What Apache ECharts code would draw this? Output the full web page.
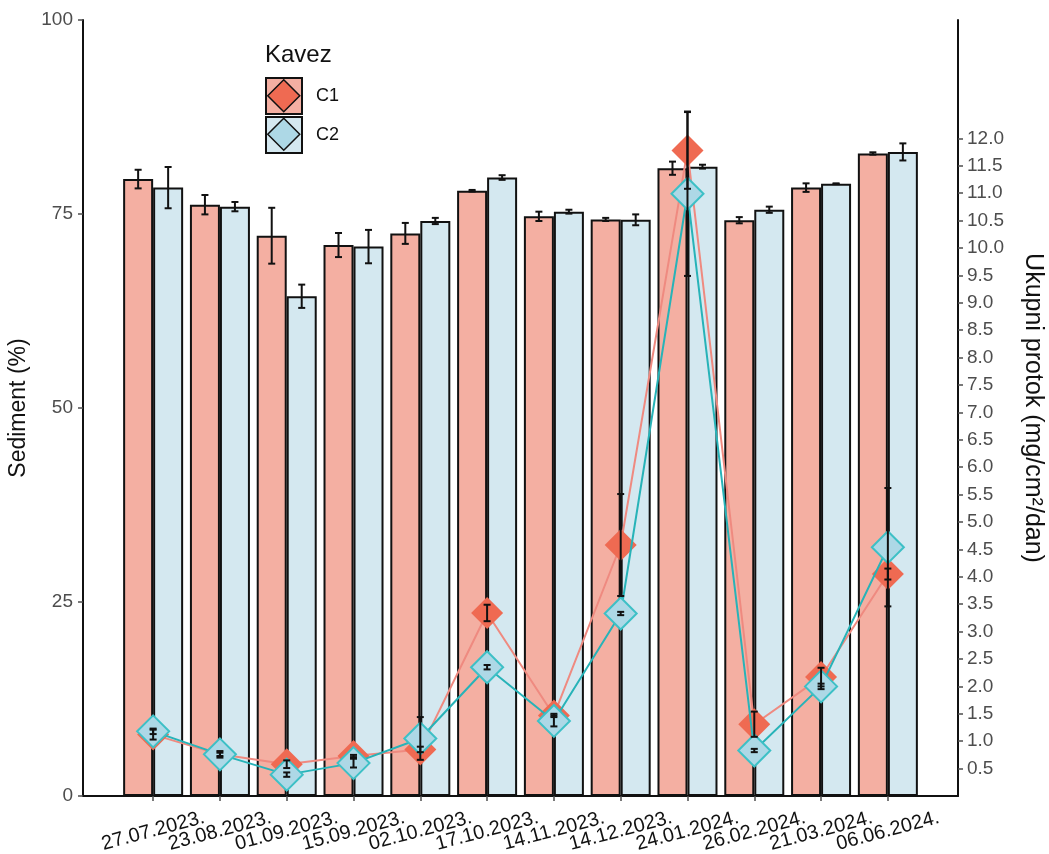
<!DOCTYPE html>
<html>
<head>
<meta charset="utf-8">
<script src="https://cdn.jsdelivr.net/npm/echarts@6.0.0/dist/echarts.min.js"></script>
<style>
html,body{margin:0;padding:0;background:#fff;}
#chart{width:1049px;height:854px;}
</style>
</head>
<body>
<div id="chart"></div>
<script>
// ---- data ----
const categories = ['27.07.2023.','23.08.2023.','01.09.2023.','15.09.2023.','02.10.2023.','17.10.2023.','14.11.2023.','14.12.2023.','24.01.2024.','26.02.2024.','21.03.2024.','06.06.2024.'];

// Sediment (%) – bars, left axis
const sedimentC1    = [79.5, 76.2, 72.2, 71.0, 72.5, 78.0, 74.7, 74.3, 80.9, 74.2, 78.4, 82.8];
const sedimentC1Err = [1.2, 1.25, 3.6, 1.55, 1.35, 0.1, 0.6, 0.2, 0.85, 0.4, 0.55, 0.15];
const sedimentC2    = [78.4, 75.95, 64.4, 70.8, 74.1, 79.7, 75.3, 74.25, 81.1, 75.55, 78.9, 83.0];
const sedimentC2Err = [2.66, 0.6, 1.5, 2.15, 0.4, 0.3, 0.25, 0.7, 0.25, 0.4, 0.05, 1.1];

// Ukupni protok (mg/cm2/dan) – lines, right axis
const fluxC1    = [1.12, 0.76, 0.58, 0.73, 0.85, 3.34, 1.47, 4.58, 11.78, 1.31, 2.17, 4.05];
const fluxC1Err = [0.09, 0.03, 0.07, 0.02, 0.05, 0.15, 0.03, 0.93, 0.70, 0.23, 0.17, 0.10];
const fluxC2    = [1.18, 0.76, 0.39, 0.60, 1.05, 2.35, 1.37, 3.33, 10.99, 0.83, 2.00, 4.54];
const fluxC2Err = [0.05, 0.06, 0.04, 0.08, 0.39, 0.04, 0.10, 0.03, 1.50, 0.03, 0.05, 1.08];

const leftTicks  = [0, 25, 50, 75, 100];
const rightTicks = [0.5,1.0,1.5,2.0,2.5,3.0,3.5,4.0,4.5,5.0,5.5,6.0,6.5,7.0,7.5,8.0,8.5,9.0,9.5,10.0,10.5,11.0,11.5,12.0];
const rightMax = 14.16;

// ---- styles ----
const barC1 = '#F4AFA2', barC2 = '#D4E8F0';
const lineC1 = '#EF8A80', lineC2 = '#27B3B8';
const ptC1 = '#EF6A52', ptC2 = '#ADD8E6', ptC2Border = '#3DC0C6';
const ink = '#111111', tickGray = '#4D4D4D';
const FONT = '"Liberation Sans", Arial, sans-serif';

const idx = categories.map((_, i) => i);
const evenIdx = idx.filter(i => i % 2 === 0);
const oddIdx = idx.filter(i => i % 2 === 1);
const X_MIN = -1.05, X_MAX = 12.05;

function errorBars(name, vals, errs, yAxisIndex, dx, z) {
  return {
    type: 'custom', name: name, xAxisIndex: 0, yAxisIndex: yAxisIndex, z: z, silent: true,
    data: vals.map((v, i) => [i, v - errs[i], v + errs[i]]),
    encode: { x: 0, y: [1, 2] },
    renderItem: function (params, api) {
      const x = api.value(0);
      const lo = api.coord([x, api.value(1)]);
      const hi = api.coord([x, api.value(2)]);
      const cx = lo[0] + dx, w = 3.5;
      const st = { stroke: ink, lineWidth: 2 };
      return { type: 'group', children: [
        { type: 'line', shape: { x1: cx, y1: lo[1], x2: cx, y2: hi[1] }, style: st },
        { type: 'line', shape: { x1: cx - w, y1: lo[1], x2: cx + w, y2: lo[1] }, style: st },
        { type: 'line', shape: { x1: cx - w, y1: hi[1], x2: cx + w, y2: hi[1] }, style: st }
      ]};
    }
  };
}

const xLabelStyle = {
  rotate: 15, margin: 35, fontSize: 20, color: ink, fontFamily: FONT,
  align: 'center', verticalAlign: 'middle', showMinLabel: true, showMaxLabel: true, hideOverlap: false,
  formatter: function (v) { return categories[Math.round(v)]; }
};

const chart = echarts.init(document.getElementById('chart'), null, { renderer: 'canvas' });

chart.setOption({
  backgroundColor: '#ffffff',
  animation: false,
  textStyle: { fontFamily: FONT },
  title: {
    text: 'Kavez', left: 260, top: 38,
    textStyle: { fontSize: 24, fontWeight: 'normal', color: ink, fontFamily: FONT }
  },
  legend: [
    {
      orient: 'vertical', left: 260, top: 72, itemWidth: 36, itemHeight: 36, itemGap: 1,
      selectedMode: false,
      textStyle: { fontSize: 18, color: ink, fontFamily: FONT, padding: [0, 0, 0, 9] },
      data: [
        { name: 'C1', icon: 'rect', itemStyle: { color: barC1, borderColor: ink, borderWidth: 2 } },
        { name: 'C2', icon: 'rect', itemStyle: { color: barC2, borderColor: ink, borderWidth: 2 } }
      ]
    },
    {
      orient: 'vertical', left: 262, top: 74, itemWidth: 32, itemHeight: 32, itemGap: 5,
      selectedMode: false,
      formatter: function () { return ''; },
      textStyle: { fontSize: 18, color: 'rgba(0,0,0,0)' },
      data: [
        { name: 'C1', icon: 'diamond', itemStyle: { color: ptC1, borderColor: ink, borderWidth: 1.5 } },
        { name: 'C2', icon: 'diamond', itemStyle: { color: ptC2, borderColor: ink, borderWidth: 1.5 } }
      ]
    }
  ],
  grid: { left: 83, right: 91, top: 20, bottom: 58, containLabel: false, outerBoundsMode: 'none' },
  xAxis: [
    {
      type: 'value', min: X_MIN, max: X_MAX,
      splitLine: { show: false },
      axisLine: { show: true, onZero: false, lineStyle: { color: ink, width: 2 } },
      axisTick: { show: true, customValues: idx, length: 5, lineStyle: { color: tickGray, width: 1.5 } },
      axisLabel: Object.assign({ customValues: evenIdx }, xLabelStyle)
    },
    {
      type: 'value', min: X_MIN, max: X_MAX, position: 'bottom',
      splitLine: { show: false },
      axisLine: { show: false, onZero: false },
      axisTick: { show: false },
      axisLabel: Object.assign({ customValues: oddIdx }, xLabelStyle)
    }
  ],
  yAxis: [
    {
      type: 'value', min: 0, max: 100, interval: 25, position: 'left',
      name: 'Sediment (%)', nameLocation: 'middle', nameRotate: 90, nameGap: 48,
      nameTextStyle: { fontSize: 23, color: ink, fontFamily: FONT },
      splitLine: { show: false },
      axisLine: { show: true, onZero: false, lineStyle: { color: ink, width: 2 } },
      axisTick: { show: true, customValues: leftTicks, length: 5, lineStyle: { color: tickGray, width: 1.5 } },
      axisLabel: { customValues: leftTicks, fontSize: 19, color: tickGray, margin: 10, fontFamily: FONT }
    },
    {
      type: 'value', min: 0, max: rightMax, position: 'right',
      name: 'Ukupni protok (mg/cm²/dan)', nameLocation: 'middle', nameRotate: -90, nameGap: 62,
      nameTextStyle: { fontSize: 25, color: ink, fontFamily: FONT },
      splitLine: { show: false },
      axisLine: { show: true, onZero: false, lineStyle: { color: ink, width: 2 } },
      axisTick: { show: true, customValues: rightTicks, length: 5, lineStyle: { color: tickGray, width: 1.5 } },
      axisLabel: {
        customValues: rightTicks, fontSize: 19, color: tickGray, margin: 9, fontFamily: FONT,
        formatter: function (v) { return v.toFixed(1); }
      }
    }
  ],
  series: [
    {
      name: 'C1', type: 'bar', xAxisIndex: 0, yAxisIndex: 0, barWidth: 30, barGap: '0%', z: 2,
      itemStyle: { color: barC1, borderColor: ink, borderWidth: 2 },
      data: sedimentC1.map((v, i) => [i, v])
    },
    {
      name: 'C2', type: 'bar', xAxisIndex: 0, yAxisIndex: 0, barWidth: 30, barGap: '0%', z: 2,
      itemStyle: { color: barC2, borderColor: ink, borderWidth: 2 },
      data: sedimentC2.map((v, i) => [i, v])
    },
    errorBars('errSedC1', sedimentC1, sedimentC1Err, 0, -15, 3),
    errorBars('errSedC2', sedimentC2, sedimentC2Err, 0, 15, 3),
    {
      name: 'C1', type: 'line', xAxisIndex: 0, yAxisIndex: 1, z: 4,
      symbol: 'diamond', symbolSize: 32, showSymbol: true,
      lineStyle: { color: lineC1, width: 2 },
      itemStyle: { color: ptC1, borderWidth: 0 },
      data: fluxC1.map((v, i) => [i, v])
    },
    {
      name: 'C2', type: 'line', xAxisIndex: 0, yAxisIndex: 1, z: 5,
      symbol: 'diamond', symbolSize: 32, showSymbol: true,
      lineStyle: { color: lineC2, width: 2 },
      itemStyle: { color: ptC2, borderColor: ptC2Border, borderWidth: 2 },
      data: fluxC2.map((v, i) => [i, v])
    },
    errorBars('errFluxC1', fluxC1, fluxC1Err, 1, 0, 6),
    errorBars('errFluxC2', fluxC2, fluxC2Err, 1, 0, 6)
  ]
});
</script>
</body>
</html>
